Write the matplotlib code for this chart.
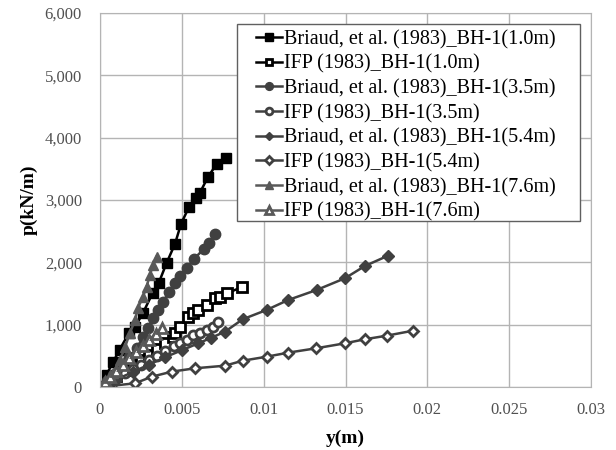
"""p-y curves, BH-1: Briaud et al. (1983) vs IFP (1983)."""
from matplotlib import pyplot as plt
from matplotlib.patches import Rectangle
from matplotlib.ticker import FuncFormatter, MultipleLocator

# %% data (y in m, p in kN/m)
briaud_10_y = [0, 0.0004, 0.0008, 0.0012, 0.00177, 0.00214, 0.00263, 0.00322,
               0.00359, 0.00407, 0.00458, 0.00495, 0.00544, 0.00586, 0.0061,
               0.0066, 0.00713, 0.0077]
briaud_10_p = [0, 200, 400, 600, 867, 963, 1190, 1510, 1670, 1990, 2295, 2616,
               2890, 3034, 3114, 3370, 3580, 3680]
ifp_10_y = [0, 0.0005, 0.001, 0.0015, 0.002, 0.0025, 0.003, 0.0035, 0.004,
            0.00446, 0.00458, 0.00489, 0.00538, 0.00568, 0.00599, 0.00652,
            0.00702, 0.00733, 0.00774, 0.00866]
ifp_10_p = [0, 90, 180, 270, 360, 440, 520, 610, 700, 803, 867, 963, 1124,
            1188, 1236, 1316, 1428, 1450, 1504, 1600]

briaud_35_y = [0, 0.0004, 0.0008, 0.0013, 0.0018, 0.00226, 0.00263, 0.00293,
               0.00324, 0.00354, 0.00385, 0.00421, 0.00458, 0.00489, 0.00531,
               0.00574, 0.00635, 0.00666, 0.00702]
briaud_35_p = [0, 100, 200, 330, 480, 626, 803, 947, 1108, 1236, 1364, 1525,
               1670, 1782, 1910, 2055, 2215, 2311, 2456]
ifp_35_y = [0, 0.0005, 0.001, 0.0015, 0.002, 0.0025, 0.003, 0.0035, 0.004,
            0.0045, 0.00489, 0.0053, 0.00568, 0.00611, 0.00652, 0.0069,
            0.00723]
ifp_35_p = [0, 75, 150, 220, 290, 360, 430, 500, 580, 650, 706, 754, 835,
            867, 915, 963, 1048]

briaud_54_y = [0, 0.001, 0.002, 0.003, 0.004, 0.005, 0.006, 0.0068, 0.00764,
               0.00872, 0.01018, 0.0115, 0.01324, 0.01497, 0.01619, 0.01757]
briaud_54_p = [0, 120, 240, 360, 480, 590, 700, 790, 888, 1087, 1236, 1396,
               1557, 1745, 1942, 2103]
ifp_54_y = [0, 0.00214, 0.00316, 0.00438, 0.0058, 0.00764, 0.00872, 0.01018,
            0.0115, 0.0132, 0.01497, 0.01619, 0.01751, 0.01914]
ifp_54_p = [0, 59, 165, 246, 300, 342, 422, 486, 551, 621, 701, 766, 823,
            904]

briaud_76_y = [0, 0.00043, 0.00079, 0.00122, 0.00153, 0.00183, 0.00214,
               0.00232, 0.00263, 0.00285, 0.00305, 0.00324, 0.00346]
briaud_76_p = [0, 64, 225, 433, 642, 867, 1075, 1268, 1449, 1610, 1798, 1958,
               2092]
ifp_76_y = [0, 0.0003, 0.0006, 0.001, 0.0014, 0.0018, 0.0022, 0.0026, 0.003,
            0.0034, 0.00377]
ifp_76_p = [0, 80, 160, 260, 360, 460, 560, 660, 760, 850, 940]

labels = ['Briaud, et al. (1983)_BH-1(1.0m)', 'IFP (1983)_BH-1(1.0m)',
          'Briaud, et al. (1983)_BH-1(3.5m)', 'IFP (1983)_BH-1(3.5m)',
          'Briaud, et al. (1983)_BH-1(5.4m)', 'IFP (1983)_BH-1(5.4m)',
          'Briaud, et al. (1983)_BH-1(7.6m)', 'IFP (1983)_BH-1(7.6m)']

# %% styles
BLACK = '#000000'
DARK = '#404040'
GREY = '#595959'
styles = [
    (briaud_10_y, briaud_10_p, BLACK, 's', True, 7),
    (ifp_10_y, ifp_10_p, BLACK, 's', False, 6.5),
    (briaud_35_y, briaud_35_p, DARK, 'o', True, 7.5),
    (ifp_35_y, ifp_35_p, DARK, 'o', False, 6.5),
    (briaud_54_y, briaud_54_p, DARK, 'D', True, 6),
    (ifp_54_y, ifp_54_p, DARK, 'D', False, 5.5),
    (briaud_76_y, briaud_76_p, GREY, '^', True, 7.5),
    (ifp_76_y, ifp_76_p, GREY, '^', False, 7),
]

plt.rcParams['font.family'] = ['Liberation Serif', 'DejaVu Serif']

fig = plt.figure(figsize=(6.16, 4.5), dpi=100)
ax = fig.add_axes([100/616, 1-387/450, 491/616, 374/450])

for (xs, ys, col, mk, filled, ms), lab in zip(styles, labels):
    ax.plot(xs, ys, color=col, lw=1.8, marker=mk, ms=ms,
            mfc=col if filled else 'white', mec=col,
            mew=1.0 if filled else 2.0, label=lab)

ax.set_xlim(0, 0.03)
ax.set_ylim(0, 6000)
ax.xaxis.set_major_locator(MultipleLocator(0.005))
ax.yaxis.set_major_locator(MultipleLocator(1000))
ax.xaxis.set_major_formatter(FuncFormatter(lambda v, p: f'{v:g}'))
ax.yaxis.set_major_formatter(FuncFormatter(lambda v, p: f'{v:,.0f}'))
ax.tick_params(length=0, labelsize=12, labelcolor='#505050')
ax.tick_params(axis='x', pad=11)
ax.tick_params(axis='y', pad=13)
ax.grid(True, color='#b4b4b4', lw=1)
ax.set_axisbelow(True)
for sp in ax.spines.values():
    sp.set_color('#b4b4b4')

ax.set_xlabel('y(m)', fontsize=14, fontweight='bold', labelpad=8)
ax.set_ylabel('p(kN/m)', fontsize=14, fontweight='bold', labelpad=5)

# legend frame drawn separately so the padding matches the original
ax.add_patch(Rectangle((0.279, 0.444), 0.699, 0.527, transform=ax.transAxes,
                       facecolor='white', edgecolor='#606060', lw=1.0,
                       zorder=4))
leg = ax.legend(loc='upper left', bbox_to_anchor=(0.317, 0.955),
                fontsize=14.5, handlelength=1.3, handletextpad=0.1,
                labelspacing=0.27, borderpad=0, borderaxespad=0,
                markerscale=0.75, frameon=False)
leg.set_zorder(5)

fig.savefig('out.png', dpi=100)
